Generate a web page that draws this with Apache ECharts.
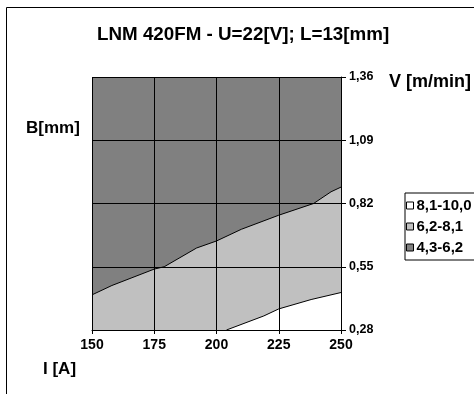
<!DOCTYPE html>
<html>
<head>
<meta charset="utf-8">
<script src="https://cdn.jsdelivr.net/npm/echarts@6/dist/echarts.min.js"></script>
<style>
html,body{margin:0;padding:0;background:#fff;}
#c{width:474px;height:394px;}
</style>
</head>
<body>
<div id="c"></div>
<script>
// ---- data ----
const xTicks = [150, 175, 200, 225, 250];
const yTicks = [0.28, 0.55, 0.82, 1.09, 1.36];
const seriesNames = ['8,1-10,0', '6,2-8,1', '4,3-6,2'];
// boundary between 4,3-6,2 (above) and 6,2-8,1 (below)
const upperX = [150, 158, 175, 179, 192, 200, 210, 225, 239, 246, 250];
const upperY = [0.43, 0.47, 0.54, 0.55, 0.63, 0.66, 0.71, 0.77, 0.82, 0.87, 0.89];
// boundary between 6,2-8,1 (above) and 8,1-10,0 (below)
const lowerX = [204, 219, 225, 238, 250];
const lowerY = [0.28, 0.34, 0.37, 0.41, 0.44];
// top region extends to the top of the chart
const topX = [150, 250];
const topY = [1.36, 1.36];

const fills = {'8,1-10,0': '#ffffff', '6,2-8,1': '#c0c0c0', '4,3-6,2': '#808080'};
const FONT = '"Liberation Sans", Arial, sans-serif';

function pairs(xs, ys) { return xs.map((x, i) => [x, ys[i]]); }
function fmt(v) { return v.toFixed(2).replace('.', ','); }

const chart = echarts.init(document.getElementById('c'), null, {renderer: 'canvas'});
chart.setOption({
  backgroundColor: '#ffffff',
  animation: false,
  grid: {left: 92, top: 77, width: 249, height: 253, show: false},
  xAxis: {
    type: 'value', min: xTicks[0], max: xTicks[xTicks.length - 1], interval: 25, z: 5,
    axisLine: {show: true, lineStyle: {color: '#000', width: 1}},
    axisTick: {show: true, length: 4, lineStyle: {color: '#000'}},
    axisLabel: {color: '#000', fontFamily: FONT, fontWeight: 'bold', fontSize: 14, margin: 8},
    splitLine: {show: true, lineStyle: {color: '#000', width: 1}}
  },
  yAxis: {
    type: 'value', position: 'right', min: yTicks[0], max: yTicks[yTicks.length - 1], z: 5,
    axisLine: {show: true, onZero: false, lineStyle: {color: '#000', width: 1}},
    axisTick: {show: true, length: 5, customValues: yTicks, lineStyle: {color: '#000'}},
    axisLabel: {customValues: yTicks, formatter: fmt, color: '#000', fontFamily: FONT, fontWeight: 'bold', fontSize: 12.5, margin: 8},
    splitLine: {show: true, lineStyle: {color: '#000', width: 1}}
  },
  legend: {
    orient: 'vertical', left: 405, top: 193,
    data: seriesNames.map(n => ({name: n, icon: 'rect', itemStyle: {color: fills[n], borderColor: '#000', borderWidth: 1}})),
    itemWidth: 7, itemHeight: 7, itemGap: 6,
    backgroundColor: '#fff', borderColor: '#000', borderWidth: 1,
    padding: [5, 20, 5, 1],
    textStyle: {color: '#000', fontFamily: FONT, fontWeight: 'bold', fontSize: 15, padding: [0, 0, 0, -2]}
  },
  series: [
    {name: '4,3-6,2', type: 'line', data: pairs(topX, topY), showSymbol: false, symbol: 'none',
     lineStyle: {width: 0, color: '#808080'}, itemStyle: {color: '#808080'},
     areaStyle: {color: '#808080', opacity: 1, origin: 'start'}, z: 1},
    {name: '6,2-8,1', type: 'line', data: pairs(upperX, upperY), showSymbol: false, symbol: 'none',
     lineStyle: {width: 1, color: '#000'}, itemStyle: {color: '#c0c0c0'},
     areaStyle: {color: '#c0c0c0', opacity: 1, origin: 'start'}, z: 2},
    {name: '8,1-10,0', type: 'line', data: pairs(lowerX, lowerY), showSymbol: false, symbol: 'none',
     lineStyle: {width: 1, color: '#000'}, itemStyle: {color: '#ffffff'},
     areaStyle: {color: '#ffffff', opacity: 1, origin: 'start'}, z: 3}
  ],
  graphic: [
    {type: 'rect', shape: {x: 6.5, y: 7.5, width: 700, height: 700}, style: {fill: null, stroke: '#000', lineWidth: 1}, silent: true, z: -1},
    {type: 'text', left: 97, top: 25, style: {text: 'LNM 420FM - U=22[V]; L=13[mm]', font: 'bold 18.8px ' + FONT, fill: '#000'}},
    {type: 'text', left: 26, top: 120, style: {text: 'B[mm]', font: 'bold 17px ' + FONT, fill: '#000'}},
    {type: 'text', left: 389, top: 73, style: {text: 'V [m/min]', font: 'bold 18px ' + FONT, fill: '#000'}},
    {type: 'text', left: 43, top: 361, style: {text: 'I [A]', font: 'bold 17px ' + FONT, fill: '#000'}}
  ]
});
</script>
</body>
</html>
